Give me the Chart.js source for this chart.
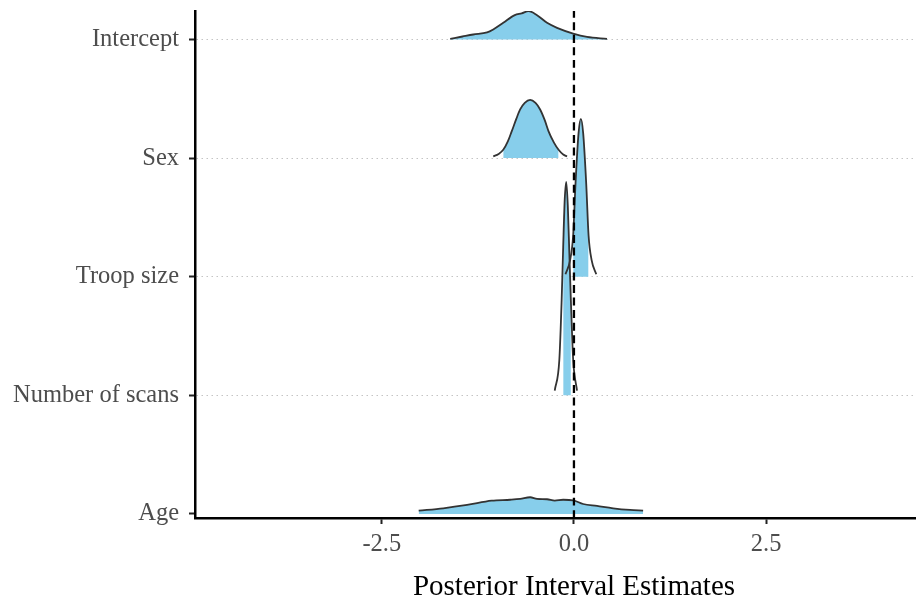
<!DOCTYPE html>
<html>
<head>
<meta charset="utf-8">
<title>Posterior Interval Estimates</title>
<script src="https://cdn.jsdelivr.net/npm/chart.js@4.4.1/dist/chart.umd.min.js"></script>
<style>
  html, body { margin: 0; padding: 0; background: #fff; }
  #wrap { width: 916px; height: 602px; }
</style>
</head>
<body>
<div id="wrap"><canvas id="chart" width="916" height="602"></canvas></div>
<script>
// rows, bottom first
const params = ['Age', 'Number of scans', 'Troop size', 'Sex', 'Intercept'];
const xTicks = [-2.5, 0, 2.5];
const xTitle = 'Posterior Interval Estimates';
const zeroLine = 0;

// density outlines: x and ridge height (in row units)
const ageX = [-2.02, -1.70, -1.39, -1.07, -0.83, -0.70, -0.57, -0.48, -0.35, -0.25, -0.14, -0.01, 0.12, 0.30, 0.51, 0.73, 0.90];
const ageH = [0.028, 0.048, 0.076, 0.112, 0.12, 0.127, 0.141, 0.127, 0.124, 0.112, 0.12, 0.115, 0.084, 0.068, 0.048, 0.034, 0.028];

const scansX = [-0.25, -0.19, -0.16, -0.14, -0.12, -0.10, -0.08, -0.06, -0.04, -0.01, 0.04];
const scansH = [0.04, 0.30, 0.80, 1.25, 1.65, 1.80, 1.60, 1.20, 0.80, 0.30, 0.04];

const troopX = [-0.11, -0.05, -0.01, 0.02, 0.06, 0.09, 0.12, 0.16, 0.19, 0.23, 0.29];
const troopH = [0.02, 0.14, 0.35, 0.78, 1.21, 1.33, 1.21, 0.78, 0.35, 0.14, 0.02];

const sexX = [-1.05, -0.98, -0.92, -0.86, -0.81, -0.75, -0.70, -0.64, -0.57, -0.50, -0.44, -0.38, -0.33, -0.26, -0.20, -0.14, -0.09];
const sexH = [0.014, 0.035, 0.07, 0.14, 0.225, 0.33, 0.41, 0.465, 0.49, 0.465, 0.41, 0.32, 0.225, 0.13, 0.07, 0.03, 0.014];

const interceptX = [-1.61, -1.45, -1.31, -1.13, -1.05, -0.92, -0.77, -0.68, -0.59, -0.48, -0.35, -0.22, -0.01, 0.17, 0.43];
const interceptH = [0.005, 0.025, 0.042, 0.059, 0.084, 0.14, 0.205, 0.22, 0.239, 0.205, 0.14, 0.098, 0.05, 0.022, 0.005];

// shaded interval [lo, hi]
const ageInner = [-2.02, 0.90];
const scansInner = [-0.14, -0.04];
const troopInner = [-0.01, 0.19];
const sexInner = [-0.92, -0.20];
const interceptInner = [-1.61, 0.43];

const ridges = [
    { x: ageX, h: ageH, inner: ageInner },
    { x: scansX, h: scansH, inner: scansInner },
    { x: troopX, h: troopH, inner: troopInner },
    { x: sexX, h: sexH, inner: sexInner },
    { x: interceptX, h: interceptH, inner: interceptInner }
];

const yMin = -0.034;
const yMax = 4.24;
const serif = "'Liberation Serif', 'DejaVu Serif', serif";

const datasets = [];
// dashed line at zero, on top
datasets.push({
    data: [{ x: zeroLine, y: yMin }, { x: zeroLine, y: yMax }],
    borderColor: '#000',
    borderWidth: 2.3,
    borderDash: [8, 4.5],
    fill: false,
    order: 0
});

ridges.forEach((r, row) => {
    const pts = r.x.map((x, i) => ({ x: x, y: row + r.h[i] }));
    datasets.push({
        data: pts,
        borderColor: '#333333',
        borderWidth: 1.8,
        fill: false,
        order: 1
    });
    datasets.push({
        data: pts.filter(p => p.x >= r.inner[0] && p.x <= r.inner[1]),
        borderWidth: 0,
        borderColor: 'rgba(0,0,0,0)',
        backgroundColor: '#87CEEB',
        fill: { value: row },
        order: 2
    });
});

// x axis title, centred like the original
const axisTitle = {
    id: 'axisTitle',
    afterDraw(chart) {
        const ctx = chart.ctx;
        ctx.save();
        ctx.font = '29px ' + serif;
        ctx.fillStyle = '#000';
        ctx.textAlign = 'center';
        ctx.textBaseline = 'alphabetic';
        ctx.fillText(xTitle, 574, 595);
        ctx.restore();
    }
};

new Chart(document.getElementById('chart'), {
    type: 'line',
    data: { datasets: datasets },
    options: {
        responsive: false,
        animation: false,
        layout: { padding: { top: 11, right: 0, bottom: 0, left: 0 } },
        elements: {
            point: { radius: 0, hoverRadius: 0 },
            line: { cubicInterpolationMode: 'monotone' }
        },
        plugins: {
            legend: { display: false },
            tooltip: { enabled: false }
        },
        scales: {
            x: {
                type: 'linear',
                min: -4.93,
                max: 4.45,
                afterBuildTicks: s => { s.ticks = xTicks.map(v => ({ value: v })); },
                afterFit: s => { s.height = 84; s.paddingLeft = 0; s.paddingRight = 0; },
                grid: { drawOnChartArea: false, drawTicks: true, tickLength: 6, tickWidth: 2, tickColor: '#222' },
                border: { display: true, color: '#000', width: 2.5 },
                ticks: {
                    padding: 6,
                    color: '#4D4D4D',
                    font: { family: serif, size: 24.5 },
                    callback: v => Number(v).toFixed(1)
                }
            },
            y: {
                type: 'linear',
                min: yMin,
                max: yMax,
                afterBuildTicks: s => { s.ticks = params.map((p, i) => ({ value: i })); },
                afterFit: s => { s.width = 195; s.paddingTop = 0; s.paddingBottom = 0; },
                grid: {
                    color: c => (c.tick && c.tick.value === 0) ? 'rgba(0,0,0,0)' : '#C4C4C4',
                    lineWidth: 1,
                    tickLength: 6,
                    tickWidth: 2,
                    tickColor: '#222'
                },
                border: { display: true, color: '#000', width: 2.5, dash: [1.5, 3.5] },
                ticks: {
                    padding: 10,
                    color: '#4D4D4D',
                    font: { family: serif, size: 24.5 },
                    callback: v => params[Math.round(v)]
                }
            }
        }
    },
    plugins: [axisTitle]
});
</script>
</body>
</html>
